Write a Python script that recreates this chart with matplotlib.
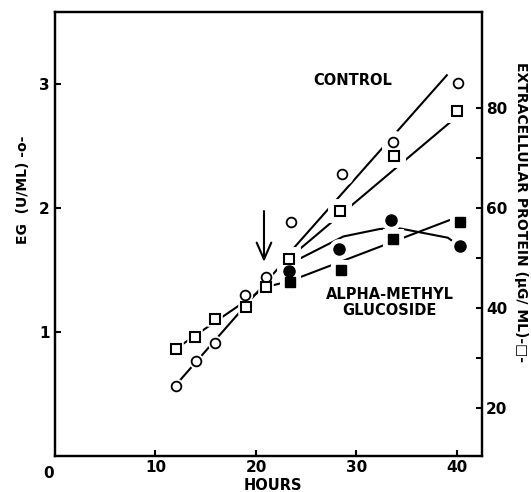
import matplotlib
matplotlib.use("Agg")
import matplotlib.pyplot as plt

# open circles: EG (left axis), open squares: extracellular protein (right axis)
hours_eg = [12.0, 14.0, 15.9, 18.9, 21.0, 23.5, 28.6, 33.6, 40.1]
eg = [0.565, 0.77, 0.91, 1.30, 1.44, 1.89, 2.27, 2.535, 3.01]
hours_prot = [12.0, 13.9, 15.9, 19.0, 21.0, 23.3, 28.4, 33.7, 40.0]
prot = [31.8, 34.3, 37.9, 40.1, 44.3, 49.9, 59.4, 70.3, 79.3]

# filled symbols: alpha-methyl glucoside
hours_eg_am = [23.3, 28.3, 33.4, 40.3]
eg_am = [1.49, 1.67, 1.90, 1.69]
hours_prot_am = [23.4, 28.5, 33.6, 40.3]
prot_am = [45.3, 47.6, 53.8, 57.1]

# fitted lines, points
fit_eg_pre_x = [12.0, 23.8]
fit_eg_pre_y = [0.57, 1.66]
fit_eg_ctl_x = [23.8, 39.0]
fit_eg_ctl_y = [1.68, 3.07]
fit_eg_am_x = [23.6, 27.0, 28.7, 32.3, 34.0, 39.1, 40.3]
fit_eg_am_y = [1.56, 1.70, 1.77, 1.83, 1.84, 1.76, 1.69]
fit_prot_pre_x = [12.0, 21.0, 23.4]
fit_prot_pre_y = [31.8, 44.2, 45.4]
fit_prot_ctl_x = [23.6, 39.6]
fit_prot_ctl_y = [50.5, 77.6]
fit_prot_am_x = [23.4, 39.3]
fit_prot_am_y = [45.4, 57.6]

fig = plt.figure(figsize=(5.31, 4.92), dpi=100)
ax = fig.add_axes([55/531, 36/492, 427/531, 444/492])
ax2 = ax.twinx()

ax.set_xlim(0, 42.5)
ax.set_ylim(0, 3.58)
ax2.set_ylim(10.4, 99.2)

tp = ax2.transData  # protein values drawn on ax so halos cover every line

lw = 1.5
ax.plot(fit_eg_pre_x, fit_eg_pre_y, color="k", lw=lw, zorder=2)
ax.plot(fit_eg_ctl_x, fit_eg_ctl_y, color="k", lw=lw, zorder=2)
ax.plot(fit_eg_am_x, fit_eg_am_y, color="k", lw=lw, zorder=2)
ax.plot(fit_prot_pre_x, fit_prot_pre_y, color="k", lw=lw, zorder=2, transform=tp)
ax.plot(fit_prot_ctl_x, fit_prot_ctl_y, color="k", lw=lw, zorder=2, transform=tp)
ax.plot(fit_prot_am_x, fit_prot_am_y, color="k", lw=lw, zorder=2, transform=tp)

# white halos make the gaps in the lines around each symbol
# (small before the addition, wider after it)
halo = dict(ls="none", mfc="white", mec="white", zorder=3)
ax.plot(hours_eg[:5], eg[:5], marker="o", ms=7, mew=4, **halo)
ax.plot(hours_prot[:5], prot[:5], marker="s", ms=7, mew=4, transform=tp, **halo)
ax.plot(hours_eg[5:], eg[5:], marker="o", ms=7, mew=10, **halo)
ax.plot(hours_prot[5:], prot[5:], marker="s", ms=7, mew=10, transform=tp, **halo)
ax.plot(hours_eg_am, eg_am, marker="o", ms=7, mew=8, **halo)
ax.plot(hours_prot_am, prot_am, marker="s", ms=7, mew=8, transform=tp, **halo)

ax.plot(hours_eg, eg, "o", ms=7, mfc="white", mec="k", mew=1.3, zorder=4)
ax.plot(hours_prot, prot, "s", ms=7, mfc="white", mec="k", mew=1.5, zorder=4, transform=tp)
ax.plot(hours_eg_am, eg_am, "o", ms=8, mfc="k", mec="k", zorder=5)
ax.plot(hours_prot_am, prot_am, "s", ms=7.5, mfc="k", mec="k", zorder=5, transform=tp)

ax.annotate("", xy=(20.8, 1.565), xytext=(20.8, 1.975),
            arrowprops=dict(arrowstyle="->,head_length=0.8,head_width=0.35",
                            lw=1.5, color="k", mutation_scale=15,
                            shrinkA=0, shrinkB=0))

lab = dict(fontsize=10.5, fontweight="bold", family="DejaVu Sans")
ax.text(29.6, 3.03, "CONTROL", ha="center", va="center", zorder=6, **lab)
ax.text(33.3, 1.30, "ALPHA-METHYL", ha="center", va="center", zorder=6, **lab)
ax.text(33.3, 1.17, "GLUCOSIDE", ha="center", va="center", zorder=6, **lab)

for s in ["left", "right", "top", "bottom"]:
    ax.spines[s].set_linewidth(1.6)
    ax2.spines[s].set_linewidth(1.6)

tick_font = dict(family="DejaVu Sans", weight="bold", size=11)
ax.set_xticks([10, 20, 30, 40])
ax.set_yticks([1, 2, 3])
ax.set_xticklabels(["10", "20", "30", "40"], fontdict=tick_font)
ax.set_yticklabels(["1", "2", "3"], fontdict=tick_font)
ax.tick_params(axis="both", direction="in", length=4, width=1.5)
ax.tick_params(axis="x", pad=3)
ax.tick_params(axis="y", pad=4)
ax.set_xticks([40], minor=True)
ax.tick_params(axis="x", which="minor", top=True, bottom=False,
               direction="in", length=4, width=1.5)
ax2.set_yticks([20, 40, 60, 80])
ax2.set_yticklabels(["20", "40", "60", "80"], fontdict=tick_font)
ax2.set_yticks([30, 50, 70], minor=True)
ax2.tick_params(axis="y", which="both", direction="in", length=4, width=1.5,
                pad=3)
ax.text(-0.016, -0.022, "0", transform=ax.transAxes, ha="center", va="top",
        fontdict=tick_font)

fig.text(23/531, 1 - 190/492, "EG  (U/ML) -o-", rotation=90, ha="center",
         va="center", fontsize=10, fontweight="bold", family="DejaVu Sans")
fig.text(521/531, 1 - 212/492, "EXTRACELLULAR PROTEIN (\u03bcG/ ML)-\u25a1-",
         rotation=-90, ha="center", va="center", fontsize=10,
         fontweight="bold", family="DejaVu Sans")
fig.text(273/531, 1 - 486/492, "HOURS", ha="center", va="center", **lab)

fig.savefig("out.png", dpi=100)
